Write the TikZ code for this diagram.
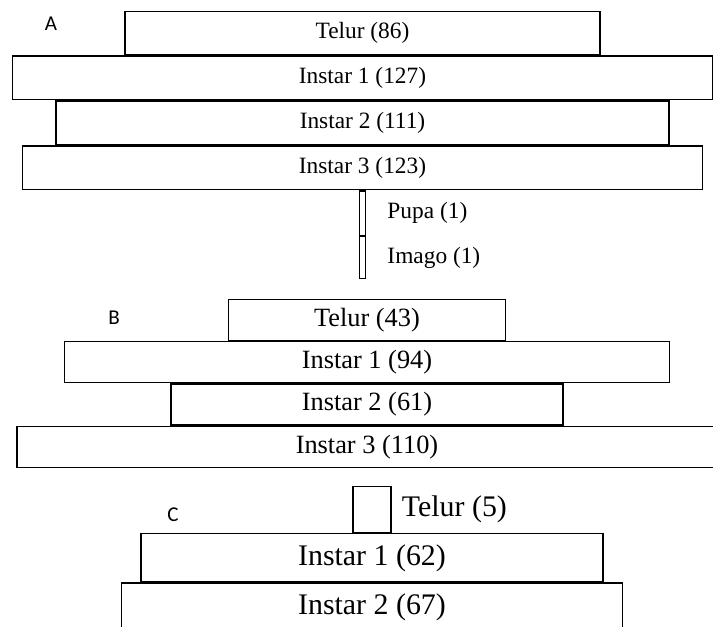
\documentclass[tikz,border=0pt]{standalone}
\usepackage{fontspec}
\setmainfont{Liberation Serif}
\newfontfamily\panelfont{Carlito}
\usetikzlibrary{positioning}

\begin{document}
\begin{tikzpicture}[
  node distance=0pt,
  stage/.style={rectangle, draw=black, line width=0.7pt, inner sep=0pt,
                align=center},
  stagea/.style={stage, minimum height=0.875cm, font=\fontsize{13.3}{15}\selectfont},
  stageb/.style={stage, minimum height=0.82cm, font=\fontsize{15}{17}\selectfont},
  stagec/.style={stage, minimum height=0.96cm, font=\fontsize{17}{20}\selectfont},
  bar/.style={rectangle, draw=black, line width=0.7pt, inner sep=0pt,
              minimum width=0.12cm},
  side/.style={inner sep=0pt, anchor=west},
  panel/.style={font=\panelfont\fontsize{12}{14}\selectfont, inner sep=0pt},
]
  \useasboundingbox (0,0) rectangle (14.26,-12.52);

  % Panel A
  \node[panel] (plA) at (1.02,-0.48) {A};
  \node[stagea, minimum width=9.5cm, anchor=north] (aegg) at (7.25,-0.21) {Telur (86)};
  \node[stagea, minimum width=14cm, below=of aegg] (ai1) {Instar 1 (127)};
  \node[stagea, minimum width=12.26cm, below=of ai1] (ai2) {Instar 2 (111)};
  \node[stagea, minimum width=13.6cm, below=of ai2] (ai3) {Instar 3 (123)};
  \node[bar, minimum height=0.89cm, below=of ai3] (apupa) {};
  \node[bar, minimum height=0.84cm, below=of apupa] (aimago) {};
  \node[side, right=0.42cm of apupa, font=\fontsize{13.3}{15}\selectfont] (apupat) {Pupa (1)};
  \node[side, right=0.42cm of aimago, font=\fontsize{13.3}{15}\selectfont] (aimagot) {Imago (1)};

  % Panel B
  \node[panel] (plB) at (2.28,-6.36) {B};
  \node[stageb, minimum width=5.54cm, anchor=north] (begg) at (7.34,-5.98) {Telur (43)};
  \node[stageb, minimum width=12.1cm, below=of begg] (bi1) {Instar 1 (94)};
  \node[stageb, minimum width=7.84cm, below=of bi1] (bi2) {Instar 2 (61)};
  \node[stageb, minimum width=14cm, below=of bi2] (bi3) {Instar 3 (110)};

  % Panel C
  \node[panel] (plC) at (3.46,-10.3) {C};
  \node[bar, minimum width=0.76cm, minimum height=0.92cm, anchor=north] (cegg) at (7.44,-9.72) {};
  \node[side, right=0.2cm of cegg, font=\fontsize{17}{20}\selectfont] (ceggt) {Telur (5)};
  \node[stagec, minimum width=9.24cm, below=of cegg] (ci1) {Instar 1 (62)};
  \node[stagec, minimum width=10.02cm, below=of ci1] (ci2) {Instar 2 (67)};
\end{tikzpicture}
\end{document}
